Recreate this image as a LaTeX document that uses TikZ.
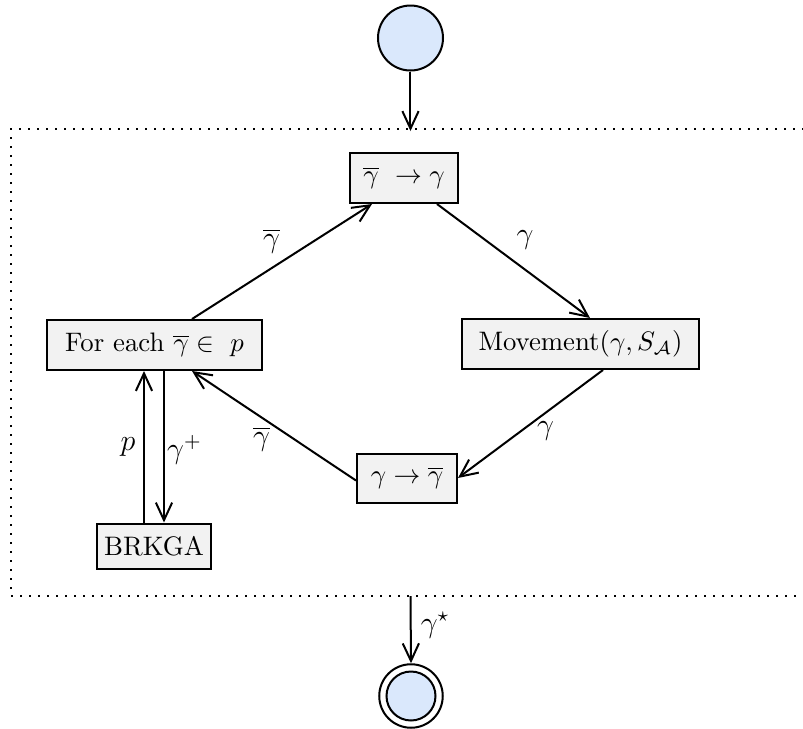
\RequirePackage{fix-cm}
\documentclass[tikz,border=0pt]{standalone}
\usetikzlibrary{arrows.meta}
\definecolor{nodeblue}{HTML}{DAE8FC}
\definecolor{boxgray}{HTML}{F2F2F2}
\begin{document}
\begin{tikzpicture}[x=0.4pt,y=-0.4pt,
  line width=0.8pt,
  every node/.style={font=\fontsize{10.7}{13}\selectfont},
  arr/.style={-{Straight Barb[length=7pt,width=6.5pt,line width=0.8pt]}},
  stepbox/.style={draw,fill=boxgray,inner sep=0pt,minimum height=20pt},
  lbl/.style={inner sep=0pt,anchor=center,font=\fontsize{12}{14}\selectfont}]
\useasboundingbox (0,0) rectangle (803,729);
\clip (0,0) rectangle (803,729);
% dotted frame
\draw[dash pattern=on 0.8pt off 2.8pt] (840,129) -- (11,129) -- (11,596) -- (840,596);
% nodes
\node[circle,draw,fill=nodeblue,minimum size=26pt,inner sep=0pt] (start) at (410.5,38) {};
\node[circle,draw,fill=white,minimum size=25.4pt,inner sep=0pt] (endo) at (411,696) {};
\node[circle,draw,fill=nodeblue,minimum size=19.6pt,inner sep=0pt] (endi) at (411,696) {};
\node[stepbox,minimum width=43.2pt] (top) at (404,178) {$\overline{\gamma}\ \rightarrow\gamma$};
\node[stepbox,minimum width=86pt] (fe) at (154.5,345) {For each $\overline{\gamma}\in\ p$};
\node[stepbox,minimum width=94.8pt] (mov) at (580.5,344) {Movement$(\gamma,S_{\mathcal{A}})$};
\node[stepbox,minimum width=40pt,minimum height=19.6pt] (bot) at (407,478) {$\gamma\rightarrow\overline{\gamma}$};
\node[stepbox,minimum width=45.6pt,minimum height=18pt] (brk) at (154,546) {BRKGA};
\coordinate (inpt) at (410.5,131);
\coordinate (outpt) at (410.5,596);
% connectors
\draw[arr] (start) -- (inpt);
\draw[arr] (outpt) -- node[lbl,xshift=9.8pt,yshift=1.6pt] {$\gamma^{\star}$} (endo.north);
\draw[arr] ([xshift=15pt]fe.north) -- node[lbl,xshift=-4.2pt,yshift=8.2pt] {$\overline{\gamma}$} ([xshift=-12.8pt]top.south);
\draw[arr] ([xshift=13.2pt]top.south) -- node[lbl,xshift=4.6pt,yshift=8.4pt] {$\gamma$} ([xshift=3.8pt]mov.north);
\draw[arr] ([xshift=9pt]mov.south) -- node[lbl,xshift=6pt,yshift=-2.6pt] {$\gamma$} (bot.east);
\draw[arr] ([yshift=-1pt]bot.west) -- node[lbl,xshift=-5pt,yshift=-5.4pt] {$\overline{\gamma}$} ([xshift=15pt]fe.south);
\draw[arr] ([xshift=-4pt]brk.north) -- node[lbl,xshift=-6.4pt] {$p$} ([xshift=-4pt]brk.north |- fe.south);
\draw[arr] ([xshift=4pt]brk.north |- fe.south) -- node[lbl,xshift=8.2pt,yshift=-1.2pt] {$\gamma^{+}$} ([xshift=4pt]brk.north);
\end{tikzpicture}
\end{document}
